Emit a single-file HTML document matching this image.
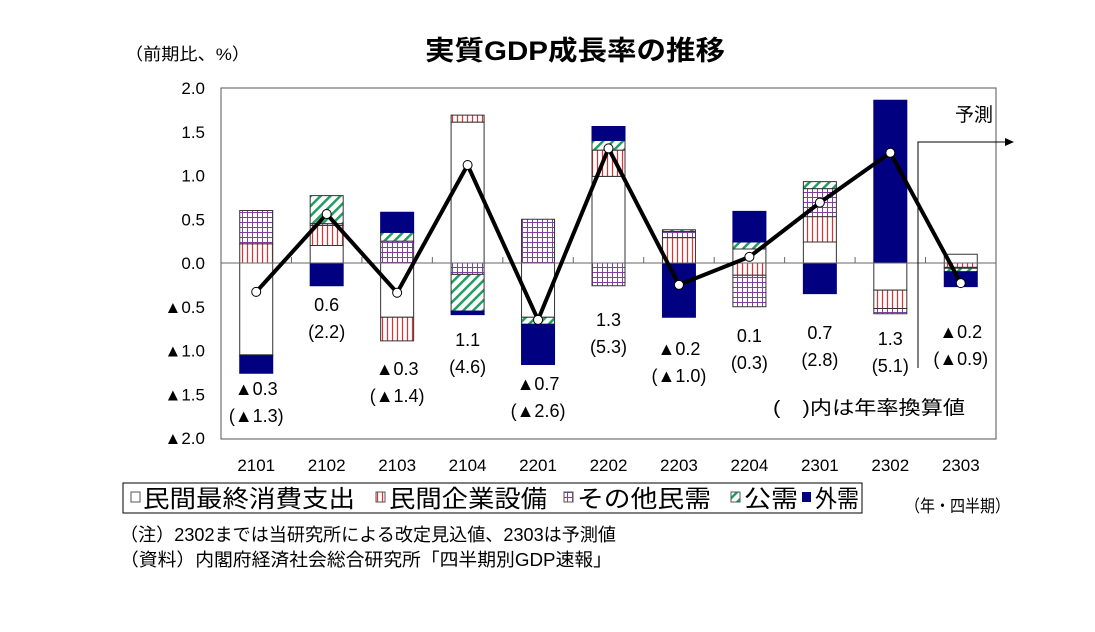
<!DOCTYPE html>
<html><head><meta charset="utf-8"><style>
body{margin:0;background:#fff;}
svg text{font-family:"Liberation Sans Narrow","Liberation Sans","Noto Sans CJK JP",sans-serif;fill:#000;}
</style></head><body>
<svg id="chart" width="1095" height="627" viewBox="0 0 1095 627" xmlns="http://www.w3.org/2000/svg">
<defs>
<pattern id="pCapex" width="5" height="6" patternUnits="userSpaceOnUse"><rect width="5" height="6" fill="#fff"/><line x1="2.5" y1="0" x2="2.5" y2="6" stroke="#e03030" stroke-width="1.2"/></pattern>
<pattern id="pOther" width="5" height="5" patternUnits="userSpaceOnUse"><rect width="5" height="5" fill="#fff"/><path d="M2.5 0V5M0 2.5H5" stroke="#8040a0" stroke-width="1"/></pattern>
<pattern id="pPublic" width="7" height="7" patternUnits="userSpaceOnUse" patternTransform="rotate(45)"><rect width="7" height="7" fill="#fff"/><line x1="0" y1="0" x2="0" y2="7" stroke="#20a060" stroke-width="5"/></pattern>
</defs>
<text x="575" y="60" font-size="27" font-weight="bold" text-anchor="middle" textLength="300" lengthAdjust="spacingAndGlyphs" style="font-family:'Liberation Sans','Noto Sans CJK JP',sans-serif">実質GDP成長率の推移</text>
<text x="125" y="60" font-size="17" textLength="125" lengthAdjust="spacingAndGlyphs">（前期比、%）</text>
<rect x="221" y="88" width="775" height="351" fill="#fff" stroke="#555" stroke-width="1"/>
<g id="yaxis"></g>
<g id="bars"></g>
<line x1="221" y1="263" x2="996" y2="263" stroke="#666" stroke-width="1"/>
<g id="xticks"></g>
<g id="line"></g>
<g id="labels"></g>
<g>
<polyline points="918,368 918,142 1005,142" fill="none" stroke="#000" stroke-width="1"/>
<path d="M1005,138 L1014,142 L1005,146Z" fill="#000"/>
<text x="955" y="121" font-size="19" style="font-family:'Liberation Sans','Noto Sans CJK JP',sans-serif">予測</text>
</g>
<text x="773" y="414" font-size="19" textLength="192" lengthAdjust="spacingAndGlyphs" style="font-family:'Liberation Sans','Noto Sans CJK JP',sans-serif">(　)内は年率換算値</text>
<g>
<rect x="123" y="483" width="739" height="30" fill="#fff" stroke="#000" stroke-width="1"/>
<rect x="131" y="492" width="9" height="10" fill="#fff" stroke="#555"/>
<text x="143" y="507" font-size="24" textLength="212" lengthAdjust="spacingAndGlyphs">民間最終消費支出</text>
<rect x="376" y="492" width="9" height="10" fill="url(#pCapex)" stroke="#555"/>
<text x="389" y="507" font-size="24" textLength="158" lengthAdjust="spacingAndGlyphs">民間企業設備</text>
<rect x="564" y="492" width="9" height="10" fill="url(#pOther)" stroke="#555"/>
<text x="577" y="507" font-size="24" textLength="134" lengthAdjust="spacingAndGlyphs">その他民需</text>
<rect x="731" y="492" width="9" height="10" fill="url(#pPublic)" stroke="#555"/>
<text x="744" y="507" font-size="24" textLength="54" lengthAdjust="spacingAndGlyphs">公需</text>
<rect x="802" y="492" width="9" height="10" fill="#000080"/>
<text x="815" y="507" font-size="24" textLength="44" lengthAdjust="spacingAndGlyphs">外需</text>
</g>
<text x="905" y="512" font-size="17" textLength="105" lengthAdjust="spacingAndGlyphs">（年・四半期）</text>
<text x="120" y="541" font-size="18" textLength="496" lengthAdjust="spacingAndGlyphs">（注）2302までは当研究所による改定見込値、2303は予測値</text>
<text x="120" y="566" font-size="18" textLength="492" lengthAdjust="spacingAndGlyphs">（資料）内閣府経済社会総合研究所「四半期別GDP速報」</text>
</svg>
<script>
const categories=["2101","2102","2103","2104","2201","2202","2203","2204","2301","2302","2303"];
const consumption=[-1.05,0.2,-0.62,1.61,-0.62,0.99,0,0.16,0.24,-0.31,0.1];
const capex=[0.22,0.23,-0.27,0.08,0,0.3,0.29,-0.14,0.29,-0.21,-0.05];
const otherPrivate=[0.38,0.02,0.25,-0.13,0.5,-0.26,0.07,-0.36,0.32,-0.06,-0.01];
const publicDemand=[-0.01,0.32,0.1,-0.42,-0.08,0.11,0.02,0.08,0.08,0,-0.04];
const externalDemand=[-0.2,-0.26,0.23,-0.04,-0.46,0.16,-0.62,0.35,-0.35,1.86,-0.17];
const gdp=[-0.33,0.56,-0.34,1.12,-0.65,1.31,-0.25,0.07,0.69,1.26,-0.23];
const qoqLabels=["▲0.3","0.6","▲0.3","1.1","▲0.7","1.3","▲0.2","0.1","0.7","1.3","▲0.2"];
const annualLabels=["(▲1.3)","(2.2)","(▲1.4)","(4.6)","(▲2.6)","(5.3)","(▲1.0)","(0.3)","(2.8)","(5.1)","(▲0.9)"];
const yTicks=[2,1.5,1,0.5,0,-0.5,-1,-1.5,-2];
const yTickLabels=["2.0","1.5","1.0","0.5","0.0","▲0.5","▲1.0","▲1.5","▲2.0"];
const labelTop=[388,304,368,339,383,319,348,335,332,338,331];

const NS="http://www.w3.org/2000/svg";
const X0=221,CW=775/11,Y0=263,PU=87.5;
const xC=i=>X0+CW*(i+0.5);
const yS=v=>Y0-v*PU;
function mk(tag,attrs,parent){const e=document.createElementNS(NS,tag);for(const k in attrs)e.setAttribute(k,attrs[k]);parent.appendChild(e);return e;}
const gy=document.getElementById('yaxis');
yTicks.forEach((v,i)=>{
  const t=mk('text',{x:205,y:yS(v)+6,'font-size':17,'text-anchor':'end'},gy);
  
  
  t.textContent=yTickLabels[i];
});
const gx=document.getElementById('xticks');
categories.forEach((c,i)=>{
  if(i>0){const l=mk('line',{x1:X0+CW*i,y1:Y0,x2:X0+CW*i,y2:Y0-6,stroke:'#666'},gx);
  
  }
  const t=mk('text',{x:xC(i),y:471,'font-size':17,'text-anchor':'middle'},gx);
  
  
  t.textContent=c;
});
const series=[[consumption,'#fff','consumption'],[capex,'url(#pCapex)','capex'],[otherPrivate,'url(#pOther)','other-private'],[publicDemand,'url(#pPublic)','public-demand'],[externalDemand,'#000080','external-demand']];
const gb=document.getElementById('bars');
const BW=33;
categories.forEach((c,i)=>{
  let pos=0,neg=0;
  series.forEach(([arr,fill,name])=>{
    const v=arr[i];if(v===0)return;
    let a,b;
    if(v>0){a=pos;b=pos+v;pos=b;}else{a=neg;b=neg+v;neg=b;}
    const y1=yS(Math.max(a,b)),y2=yS(Math.min(a,b));
    const r=mk('rect',{x:xC(i)-BW/2,y:y1,width:BW,height:y2-y1,fill:fill,stroke:fill==='#000080'?'#000080':'#333','stroke-width':1},gb);
    
    
  });
});
const gl=document.getElementById('line');
const pl=mk('polyline',{points:gdp.map((v,i)=>xC(i)+','+yS(v)).join(' '),fill:'none',stroke:'#000','stroke-width':4,'stroke-linejoin':'miter'},gl);


gdp.forEach((v,i)=>{
  const c=mk('circle',{cx:xC(i),cy:yS(v),r:4.5,fill:'#fff',stroke:'#000','stroke-width':1},gl);
  
  
});
const glb=document.getElementById('labels');
categories.forEach((c,i)=>{
  const t1=mk('text',{x:xC(i),y:labelTop[i]+7,'font-size':18,'text-anchor':'middle'},glb);
  
  
  t1.textContent=qoqLabels[i];
  const t2=mk('text',{x:xC(i),y:labelTop[i]+34,'font-size':18,'text-anchor':'middle'},glb);
  
  
  t2.textContent=annualLabels[i];
});
</script>
</body></html>
